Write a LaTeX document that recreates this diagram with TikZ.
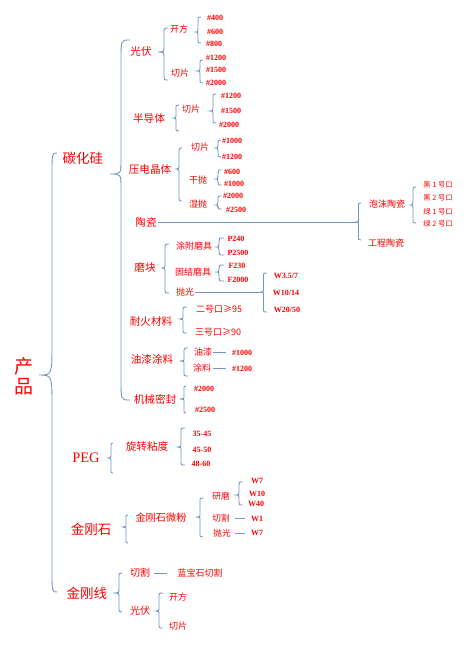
\documentclass[tikz,border=0pt]{standalone}
\usepackage{fontspec}
\setmainfont{Liberation Serif}
\newfontfamily\cjk{Noto Sans CJK SC}
\definecolor{bl}{RGB}{115,150,195}
\tikzset{
 lbl/.style={text=red, inner sep=1pt, anchor=center},
 L0/.style={lbl, font=\cjk\fontsize{19}{20}\selectfont, align=center},
 L1/.style={lbl, font=\cjk\fontsize{13.5}{15}\selectfont},
 L2/.style={lbl, font=\cjk\fontsize{10.6}{12}\selectfont},
 L3/.style={lbl, font=\cjk\fontsize{9}{10}\selectfont},
 L4/.style={lbl, font=\cjk\fontsize{7.3}{8}\selectfont},
 num/.style={lbl, font=\bfseries\fontsize{8}{9}\selectfont},
 brc/.style={draw=bl, line width=0.9pt},
 ln/.style={draw=bl, line width=0.9pt},
}
% tipx, tipy, linex, endx, topy, boty, r1, r2
\newcommand\mybrace[8]{\draw[brc] (#4,#5) .. controls (#3,#5) .. (#3,{#5+#7}) -- (#3,{#2-#8}) .. controls (#3,#2) .. (#1,#2) .. controls (#3,#2) .. (#3,{#2+#8}) -- (#3,{#6-#7}) .. controls (#3,#6) .. (#4,#6);}
\begin{document}
\begin{tikzpicture}[x=1pt,y=-1pt]
\useasboundingbox (0,0) rectangle (471,649);
% root
\node[L0] (chanpin) at (24,376) {产\\品};
\mybrace{39}{375}{52}{57}{153}{592}{22}{32}
\node[L1] (thg) at (83,158) {碳化硅};
\node[lbl,font=\fontsize{14.5}{16}\selectfont] (peg) at (86,458) {PEG};
\node[L1] (jgs) at (91,529) {金刚石};
\node[L1] (jgx) at (87,593) {金刚线};
% 碳化硅
\mybrace{110}{174}{121}{130}{40}{400}{20}{14}
\node[L2] (gf) at (141,51) {光伏};
\node[L2] (bdt) at (149,118) {半导体};
\node[L2] (ydjt) at (150,169) {压电晶体};
\node[L2] (tc) at (146,222) {陶瓷};
\node[L2] (mk) at (145,267) {磨块};
\node[L2] (nhcl) at (151,321) {耐火材料};
\node[L2] (yqtl) at (152,359) {油漆涂料};
\node[L2] (jxmf) at (155,399) {机械密封};
% 光伏
\mybrace{158}{52}{164}{168}{28}{80}{5}{5}
\node[L3] (gfkf) at (179,29) {开方};
\node[L3] (gfqp) at (180,73) {切片};
\mybrace{194}{32}{198}{201}{17}{43}{3}{3}
\node[num] (n400) at (215,18) {\#400};
\node[num] (n600) at (215,32) {\#600};
\node[num] (n800) at (214,44) {\#800};
\mybrace{197}{71}{200}{203}{60}{83}{3}{3}
\node[num] (g1200) at (216,58) {\#1200};
\node[num] (g1500) at (216,70) {\#1500};
\node[num] (g2000) at (216,83) {\#2000};
% 半导体
\mybrace{172}{118}{176}{179}{105}{131}{4}{4}
\node[L3] (bdtqp) at (191,109) {切片};
\mybrace{210}{111}{213}{216}{94}{123}{3}{3}
\node[num] (b1200) at (231,96) {\#1200};
\node[num] (b1500) at (231,111) {\#1500};
\node[num] (b2000) at (229,125) {\#2000};
% 压电晶体
\mybrace{175}{169}{179}{182}{148}{201}{6}{5}
\node[L3] (yqp) at (200,147) {切片};
\node[L3] (ygp) at (198,180) {干抛};
\node[L3] (ysp) at (198,204) {湿抛};
\mybrace{214}{148}{218}{221}{140}{157}{3}{3}
\mybrace{214}{179}{218}{222}{170}{185}{3}{3}
\mybrace{214}{205}{218}{222}{196}{209}{3}{3}
\node[num] (y1000a) at (232,141) {\#1000};
\node[num] (y1200) at (232,157) {\#1200};
\node[num] (y600) at (232,172) {\#600};
\node[num] (y1000b) at (234,184) {\#1000};
\node[num] (y2000) at (233,196) {\#2000};
\node[num] (y2500) at (236,210) {\#2500};
% 陶瓷
\coordinate (tcT) at (356,222);
\draw[ln] (tc.east) -- (tcT);
\mybrace{356}{222}{358.5}{361}{203}{240}{4}{4}
\node[L3] (pmtc) at (387,204) {泡沫陶瓷};
\node[L3] (gctc) at (386,243) {工程陶瓷};
\mybrace{409}{205}{413}{416}{187}{223}{3}{3}
\node[L4] (h1) at (438,185) {黑 1 号口};
\node[L4] (h2) at (438,198) {黑 2 号口};
\node[L4] (l1) at (438,212) {绿 1 号口};
\node[L4] (l2) at (438,224) {绿 2 号口};
% 磨块
\mybrace{161}{268}{165}{169}{244}{293}{5}{5}
\node[L3] (tfmj) at (194,246) {涂附磨具};
\node[L3] (gjmj) at (193,272) {固结磨具};
\node[L3] (mkpg) at (185,292) {抛光};
\mybrace{215}{247}{219}{224}{238}{255}{3}{3}
\node[num] (p240) at (236,239) {P240};
\node[num] (p2500) at (238,253) {P2500};
\mybrace{215}{272}{219}{224}{265}{281}{3}{3}
\node[num] (f230) at (237,266) {F230};
\node[num] (f2000) at (238,280) {F2000};
\coordinate (pgT) at (261,292);
\draw[ln] (mkpg.east) -- (pgT);
\mybrace{261}{292}{263.5}{267}{273}{312}{4}{4}
\node[num] (w357) at (286,276) {W3.5/7};
\node[num] (w1014) at (286,293) {W10/14};
\node[num] (w2050) at (287,310) {W20/50};
% 耐火材料
\mybrace{180}{319}{183}{187}{307}{333}{4}{4}
\node[L3] (ehk) at (219,309) {二号口≥95};
\node[L3] (shk) at (218,332) {三号口≥90};
% 油漆涂料
\mybrace{181}{361}{184}{188}{348}{376}{4}{4}
\node[L3] (yq) at (203,352) {油漆};
\node[L3] (tl) at (202,368) {涂料};
\node[num] (q1000) at (242,353) {\#1000};
\node[num] (q1200) at (242,369) {\#1200};
\draw[ln, shorten >=5pt] (yq.east) -- (yq.east -| q1000.west);
\draw[ln, shorten <=1pt, shorten >=5pt] (tl.east) -- (tl.east -| q1200.west);
% 机械密封
\mybrace{181}{399}{184}{186}{386}{413}{4}{4}
\node[num] (m2000) at (204,389) {\#2000};
\node[num] (m2500) at (205,410) {\#2500};
% PEG
\mybrace{107}{458}{111}{113}{443}{473}{4}{4}
\node[L2] (xznd) at (147,446) {旋转粘度};
\mybrace{178}{447}{181}{185}{428}{465}{4}{4}
\node[num] (v1) at (202,434) {35-45};
\node[num] (v2) at (202,450) {45-50};
\node[num] (v3) at (201,464) {48-60};
% 金刚石
\mybrace{123}{527}{126}{128}{515}{543}{4}{4}
\node[L2,font=\cjk\fontsize{10.2}{12}\selectfont] (wf) at (161,518) {金刚石微粉};
\mybrace{197}{517}{200}{203}{498}{537}{4}{4}
\node[L3,font=\cjk\fontsize{8.6}{10}\selectfont] (ym) at (221,496) {研磨};
\node[L3,font=\cjk\fontsize{8.6}{10}\selectfont] (qg) at (221,518) {切割};
\node[L3,font=\cjk\fontsize{8.6}{10}\selectfont] (pg) at (222,533) {抛光};
\mybrace{236}{495}{239}{243}{482}{505}{3}{3}
\node[num] (w7a) at (257,481) {W7};
\node[num] (w10) at (257,494) {W10};
\node[num] (w40) at (256,504) {W40};
\node[num] (w1) at (257,519) {W1};
\node[num] (w7b) at (257,533) {W7};
\draw[ln, shorten <=4pt, shorten >=5pt] (qg.east) -- (qg.east -| w1.west);
\draw[ln, shorten <=3pt, shorten >=5pt] (pg.east) -- (pg.east -| w7b.west);
% 金刚线
\mybrace{113}{593}{119}{122}{573}{612}{5}{5}
\node[L2,font=\cjk\fontsize{10}{12}\selectfont] (xqg) at (140,573) {切割};
\node[L2,font=\cjk\fontsize{10}{12}\selectfont] (xgf) at (140,611) {光伏};
\node[L3] (lbs) at (200,573) {蓝宝石切割};
\draw[ln, shorten <=3pt, shorten >=9pt] (xqg.east) -- (xqg.east -| lbs.west);
\mybrace{156}{611}{159}{163}{593}{628}{4}{4}
\node[L3] (xkf) at (178,597) {开方};
\node[L3] (xqp) at (178,626) {切片};
\end{tikzpicture}
\end{document}
